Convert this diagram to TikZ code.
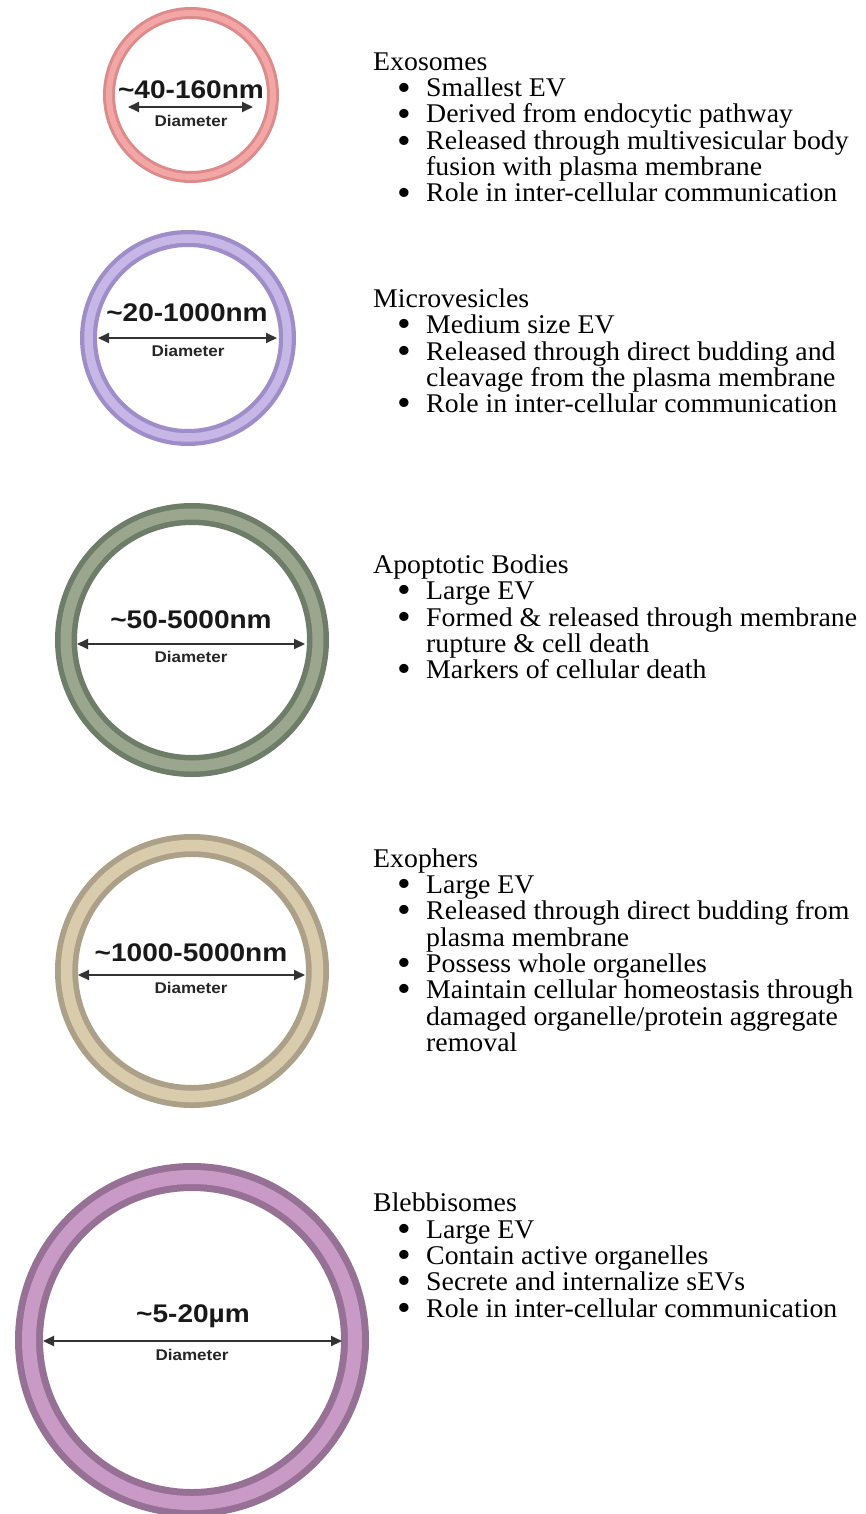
\documentclass[tikz,border=0pt]{standalone}
\usepackage{fontspec}
\setmainfont{Liberation Serif}
\newfontfamily\evserif[FakeStretch=1.03]{Liberation Serif}
\newfontfamily\evsans[FakeStretch=1.1]{Liberation Sans}
\usetikzlibrary{arrows.meta}

\definecolor{exoD}{HTML}{DC8A8A}\definecolor{exoL}{HTML}{F3A6A6}
\definecolor{micD}{HTML}{9F8DCA}\definecolor{micL}{HTML}{C7B7E7}
\definecolor{apoD}{HTML}{6E7D67}\definecolor{apoL}{HTML}{9BA68F}
\definecolor{exfD}{HTML}{ACA088}\definecolor{exfL}{HTML}{D9CCAD}
\definecolor{blbD}{HTML}{977195}\definecolor{blbL}{HTML}{C99AC5}

\newcommand\bul{\makebox[29pt][l]{{\fontsize{38}{26}\selectfont\raisebox{-3.5pt}[0pt][0pt]{•}}}}
\newcommand\evring[6]{%
  \fill[#5, even odd rule] (#1,#2) circle[radius=#3pt] (#1,#2) circle[radius=#4pt];
  \pgfmathsetmacro\evta{#3-(#3-#4)/4}\pgfmathsetmacro\evtb{#4+(#3-#4)/4}
  \fill[#6, even odd rule] (#1,#2) circle[radius=\evta pt] (#1,#2) circle[radius=\evtb pt];
}

\tikzset{
  txt/.style={anchor=base west, inner sep=0pt, font=\evserif\fontsize{27}{26}\selectfont},
  sizelbl/.style={inner sep=0pt, font=\evsans\bfseries\fontsize{25.5}{26}\selectfont, text=black!90},
  diamlbl/.style={inner sep=0pt, font=\evsans\bfseries\fontsize{15.5}{16}\selectfont, text=black!85},
  dimarrow/.style={{Triangle[length=11pt,width=10pt]}-{Triangle[length=11pt,width=10pt]}, line width=2pt, draw=black!80},
}

\begin{document}
\begin{tikzpicture}[x=1pt,y=-1pt]
\fill[white] (0,0) rectangle (865,1514);
\useasboundingbox (0,0) rectangle (865,1514);

% ---------- rings ----------
\evring{191}{95}{88}{76}{exoD}{exoL}
\evring{188}{338}{108}{91}{micD}{micL}
\evring{192}{640}{137}{115}{apoD}{apoL}
\evring{192}{971}{137}{114}{exfD}{exfL}
\evring{192}{1340}{177}{149}{blbD}{blbL}

% ---------- size labels and arrows ----------
\node[sizelbl] (exoS) at (191,90) {\textasciitilde40-160nm};
\coordinate (exoA) at (128,107); \coordinate (exoB) at (253,107);
\draw[dimarrow] (exoA) -- (exoB);
\node[diamlbl] (exoDm) at (191,121) {Diameter};

\node[sizelbl] (micS) at (187,313) {\textasciitilde20-1000nm};
\coordinate (micA) at (98,338); \coordinate (micB) at (277,338);
\draw[dimarrow] (micA) -- (micB);
\node[diamlbl] (micDm) at (188,351) {Diameter};

\node[sizelbl] (apoS) at (191,620) {\textasciitilde50-5000nm};
\coordinate (apoA) at (77,644); \coordinate (apoB) at (305,644);
\draw[dimarrow] (apoA) -- (apoB);
\node[diamlbl] (apoDm) at (191,657) {Diameter};

\node[sizelbl] (exfS) at (191,953) {\textasciitilde1000-5000nm};
\coordinate (exfA) at (78,975); \coordinate (exfB) at (305,975);
\draw[dimarrow] (exfA) -- (exfB);
\node[diamlbl] (exfDm) at (191,988) {Diameter};

\node[sizelbl] (blbS) at (193,1316) {\textasciitilde5-20µm};
\coordinate (blbA) at (43,1341); \coordinate (blbB) at (342,1341);
\draw[dimarrow] (blbA) -- (blbB);
\node[diamlbl] (blbDm) at (192,1355) {Diameter};

% ---------- descriptions ----------
\node[txt] (exoT) at (373,71) {Exosomes};
\node[txt] (exo1) at (397,97) {\bul Smallest EV};
\node[txt] (exo2) at (397,123) {\bul Derived from endocytic pathway};
\node[txt] (exo3) at (397,150) {\bul Released through multivesicular body};
\node[txt] (exo3b) at (426,176) {fusion with plasma membrane};
\node[txt] (exo4) at (397,202) {\bul Role in inter-cellular communication};

\node[txt] (micT) at (373,307) {Microvesicles};
\node[txt] (mic1) at (397,333) {\bul Medium size EV};
\node[txt] (mic2) at (397,360) {\bul Released through direct budding and};
\node[txt] (mic2b) at (426,386) {cleavage from the plasma membrane};
\node[txt] (mic3) at (397,412) {\bul Role in inter-cellular communication};

\node[txt] (apoT) at (373,573) {Apoptotic Bodies};
\node[txt] (apo1) at (397,599) {\bul Large EV};
\node[txt] (apo2) at (397,626) {\bul Formed \& released through membrane};
\node[txt] (apo2b) at (426,652) {rupture \& cell death};
\node[txt] (apo3) at (397,678) {\bul Markers of cellular death};

\node[txt] (exfT) at (373,867) {Exophers};
\node[txt] (exf1) at (397,893) {\bul Large EV};
\node[txt] (exf2) at (397,919) {\bul Released through direct budding from};
\node[txt] (exf2b) at (426,946) {plasma membrane};
\node[txt] (exf3) at (397,972) {\bul Possess whole organelles};
\node[txt] (exf4) at (397,998) {\bul Maintain cellular homeostasis through};
\node[txt] (exf4b) at (426,1025) {damaged organelle/protein aggregate};
\node[txt] (exf4c) at (426,1051) {removal};

\node[txt] (blbT) at (373,1211) {Blebbisomes};
\node[txt] (blb1) at (397,1238) {\bul Large EV};
\node[txt] (blb2) at (397,1264) {\bul Contain active organelles};
\node[txt] (blb3) at (397,1290) {\bul Secrete and internalize sEVs};
\node[txt] (blb4) at (397,1317) {\bul Role in inter-cellular communication};
\end{tikzpicture}
\end{document}
